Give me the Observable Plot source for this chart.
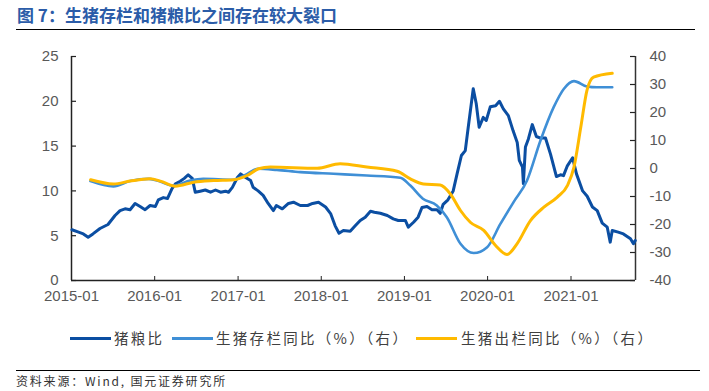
<!DOCTYPE html>
<html><head><meta charset="utf-8">
<script src="https://cdn.jsdelivr.net/npm/d3@7"></script>
<script src="https://cdn.jsdelivr.net/npm/@observablehq/plot@0.6"></script>
<style>
body{margin:0;background:#fff;}
#wrap{position:relative;width:709px;height:391px;overflow:hidden;background:#fff;font-family:"Liberation Sans",Arial,"Noto Sans CJK SC",sans-serif;}
#title{position:absolute;left:17px;top:2px;font-weight:bold;font-size:17px;font-family:"Noto Sans CJK SC",sans-serif;color:#2b5ca8;white-space:nowrap;}
#tline{position:absolute;left:16px;top:29px;width:679px;height:0;border-top:1.5px solid #000;}
#chart{position:absolute;left:0;top:40px;}
.leg{position:absolute;top:328px;font-family:"Noto Sans CJK SC",sans-serif;font-size:14.5px;letter-spacing:2.3px;color:#404040;white-space:nowrap;line-height:20px;}
.sw{position:absolute;top:337px;height:3px;width:41px;}
#sline{position:absolute;left:16px;top:370px;width:684px;height:0;border-top:1px solid #000;}
#source{position:absolute;left:16px;top:372px;font-size:12px;letter-spacing:1.8px;color:#333;font-family:"Noto Sans CJK SC",sans-serif;white-space:nowrap;}
</style></head>
<body>
<div id="wrap">
  <div id="title">图 7：生猪存栏和猪粮比之间存在较大裂口</div>
  <div id="tline"></div>
  <div id="chart"></div>
  <div id="legend"></div>
  <div id="sline"></div>
  <div id="source">资料来源：Wind, 国元证券研究所</div>
</div>
<script>
// ---- data ----
const seriesNames = ["猪粮比", "生猪存栏同比（%）（右）", "生猪出栏同比（%）（右）"];
const seriesColors = ["#0b4ea2", "#3f8fd6", "#ffba00"];

const pigGrainDates = ["2015-01-03","2015-02-01","2015-02-22","2015-03-15","2015-04-05","2015-05-06","2015-06-10","2015-07-11","2015-08-02","2015-08-24","2015-09-15","2015-10-07","2015-10-29","2015-11-20","2015-12-12","2016-01-04","2016-01-17","2016-02-08","2016-02-26","2016-03-17","2016-04-01","2016-04-22","2016-05-10","2016-05-27","2016-06-14","2016-06-27","2016-07-19","2016-08-10","2016-09-02","2016-09-24","2016-10-16","2016-11-07","2016-11-20","2016-12-07","2016-12-29","2017-01-12","2017-02-03","2017-02-25","2017-03-08","2017-03-30","2017-04-21","2017-05-13","2017-06-05","2017-06-18","2017-07-14","2017-08-10","2017-09-01","2017-10-01","2017-11-02","2017-11-24","2017-12-20","2018-01-20","2018-02-11","2018-03-03","2018-03-20","2018-04-08","2018-05-08","2018-05-30","2018-06-21","2018-07-13","2018-08-05","2018-08-22","2018-09-17","2018-10-18","2018-11-13","2018-12-05","2019-01-05","2019-01-18","2019-02-10","2019-03-02","2019-03-19","2019-04-10","2019-05-02","2019-05-24","2019-06-07","2019-06-20","2019-07-11","2019-08-03","2019-08-20","2019-09-08","2019-09-25","2019-10-08","2019-10-30","2019-11-12","2019-11-25","2019-12-13","2019-12-26","2020-01-13","2020-02-05","2020-02-22","2020-03-10","2020-04-01","2020-04-22","2020-05-10","2020-05-19","2020-06-02","2020-06-06","2020-06-15","2020-06-28","2020-07-15","2020-08-02","2020-08-20","2020-09-11","2020-10-03","2020-10-29","2020-11-16","2020-11-29","2020-12-16","2021-01-08","2021-01-25","2021-02-21","2021-03-13","2021-04-05","2021-04-26","2021-05-18","2021-06-09","2021-06-22","2021-07-01","2021-07-27","2021-08-19","2021-09-19","2021-10-02","2021-10-10"];
const pigGrainValues = [5.66,5.4,5.2,4.83,5.2,5.8,6.25,7.25,7.8,8.0,7.9,8.6,8.26,7.9,8.37,8.26,9.0,9.25,9.15,10.25,10.8,11.08,11.4,11.8,11.4,9.85,9.97,10.1,9.85,10.1,9.85,9.97,9.85,10.4,11.5,11.9,11.5,11.15,10.4,10.0,9.5,8.6,7.8,8.37,8.0,8.6,8.74,8.37,8.37,8.6,8.74,8.2,7.47,6.1,5.28,5.58,5.5,6.1,6.7,7.07,7.73,7.62,7.5,7.25,6.88,6.7,6.7,5.95,6.5,7.07,8.15,8.26,7.9,7.9,7.5,8.5,9.0,10.0,11.9,13.95,14.5,17.1,21.4,19.75,17.1,18.2,17.86,19.4,19.5,20.0,19.15,18.4,16.7,15.4,13.4,12.65,10.8,14.9,15.8,17.4,16.07,15.9,15.9,14.1,11.6,11.8,11.7,12.8,13.7,11.9,10.0,9.4,8.2,7.8,6.4,5.95,4.28,5.58,5.4,5.2,4.65,4.1,4.46];

const stockDates = ["2015-03-25","2015-07-04","2015-09-15","2015-12-05","2016-01-11","2016-03-23","2016-06-05","2016-08-01","2016-12-11","2017-02-10","2017-03-30","2017-06-20","2017-10-01","2018-02-24","2018-07-20","2018-12-14","2019-01-27","2019-03-23","2019-05-23","2019-07-06","2019-09-04","2019-11-01","2019-12-30","2020-02-26","2020-04-24","2020-06-22","2020-08-20","2020-10-17","2020-12-01","2021-01-14","2021-03-12","2021-04-25","2021-07-01"];
const stockValues = [-4.5,-6.4,-4.5,-3.7,-4.3,-6.1,-4.3,-3.7,-4.0,-1.9,-0.1,-0.5,-1.3,-1.9,-2.5,-3.3,-6.1,-10.8,-13.2,-17.4,-26.9,-30.2,-28.1,-19.8,-12.0,-4.3,10.0,21.9,28.5,31.2,29.3,29.0,29.0];

const slaughterDates = ["2015-03-26","2015-07-04","2015-09-15","2015-12-12","2016-01-26","2016-04-01","2016-06-20","2016-09-16","2016-12-13","2017-02-10","2017-04-01","2017-05-22","2017-12-14","2018-03-25","2018-07-20","2018-11-30","2019-01-27","2019-03-25","2019-06-07","2019-07-21","2019-09-04","2019-10-17","2019-12-15","2020-02-05","2020-03-26","2020-05-09","2020-07-07","2020-09-04","2020-11-02","2020-12-16","2021-01-14","2021-02-13","2021-03-12","2021-04-10","2021-07-01"];
const slaughterValues = [-4.0,-5.5,-4.5,-3.7,-4.5,-6.3,-4.9,-4.3,-4.0,-2.5,-0.1,0.5,0.1,1.7,0.5,-1.0,-3.7,-5.5,-5.9,-9.0,-15,-19.2,-22.1,-27.5,-30.7,-26.9,-18.6,-13.8,-10.2,-6.1,0.5,14.8,27.9,32.6,34.0];

const xTickLabels = ["2015-01","2016-01","2017-01","2018-01","2019-01","2020-01","2021-01"];
const leftTicks = [0,5,10,15,20,25];
const rightTicks = [-40,-30,-20,-10,0,10,20,30,40];

// ---- build ----
const parse = d3.utcParse("%Y-%m-%d");
const parseM = d3.utcParse("%Y-%m");
const toLeft = v => (v + 40) * 25 / 80;   // right axis (-40..40) onto left scale (0..25)
const fromLeft = y => Math.round(y * 80 / 25 - 40);

const pg = pigGrainDates.map((d, i) => ({date: parse(d), v: pigGrainValues[i]}));
const st = stockDates.map((d, i) => ({date: parse(d), v: toLeft(stockValues[i])}));
const sl = slaughterDates.map((d, i) => ({date: parse(d), v: toLeft(slaughterValues[i])}));
const xTicks = xTickLabels.map(parseM);
const xDomain = [parse("2015-01-01"), parse("2021-10-11")];

const frameW = 709 - 71 - 74, frameH = 265 - 16 - 25;

const chart = Plot.plot({
  width: 709, height: 265,
  marginLeft: 71, marginRight: 74, marginTop: 16, marginBottom: 25,
  x: {type: "utc", domain: xDomain},
  y: {domain: [0, 25]},
  style: {fontFamily: "'Liberation Sans', Arial, sans-serif", fontSize: "15px", color: "#595959", background: "#fff", overflow: "visible"},
  marks: [
    Plot.axisX(xTicks, {tickSize: 0, tickPadding: 10, tickFormat: d3.utcFormat("%Y-%m"), label: null}),
    Plot.axisY(leftTicks, {anchor: "left", tickSize: 0, tickPadding: 13, label: null}),
    Plot.axisY(rightTicks.map(toLeft), {anchor: "right", tickSize: 0, tickPadding: 14, tickFormat: fromLeft, label: null}),
    Plot.tickX(xTicks.concat([xDomain[1]]), {x: d => d, insetTop: frameH - 4, stroke: "#222"}),
    Plot.tickY(leftTicks, {y: d => d, insetRight: frameW - 5, stroke: "#222", strokeWidth: 1.2}),
    Plot.tickY(rightTicks.map(toLeft), {y: d => d, insetLeft: frameW - 5, stroke: "#222", strokeWidth: 1.2}),
    Plot.ruleX([xDomain[0]], {stroke: "#222", strokeWidth: 1.5}),
    Plot.ruleX([xDomain[1]], {stroke: "#333", strokeWidth: 1.5}),
    Plot.ruleY([0], {stroke: "#222", strokeWidth: 1.5}),
    Plot.line(pg, {x: "date", y: "v", stroke: seriesColors[0], strokeWidth: 3}),
    Plot.line(st, {x: "date", y: "v", stroke: seriesColors[1], strokeWidth: 2.6, curve: "monotone-x"}),
    Plot.line(sl, {x: "date", y: "v", stroke: seriesColors[2], strokeWidth: 3, curve: "monotone-x"})
  ]
});
document.getElementById("chart").appendChild(chart);

// legend
const legPos = [[70, 114], [172, 216], [416, 461]];
const wrap = document.getElementById("wrap");
seriesNames.forEach((name, i) => {
  const sw = document.createElement("div");
  sw.className = "sw";
  sw.style.left = legPos[i][0] + "px";
  sw.style.background = seriesColors[i];
  wrap.appendChild(sw);
  const t = document.createElement("div");
  t.className = "leg";
  t.style.left = legPos[i][1] + "px";
  t.textContent = name;
  wrap.appendChild(t);
});
</script>
</body></html>
